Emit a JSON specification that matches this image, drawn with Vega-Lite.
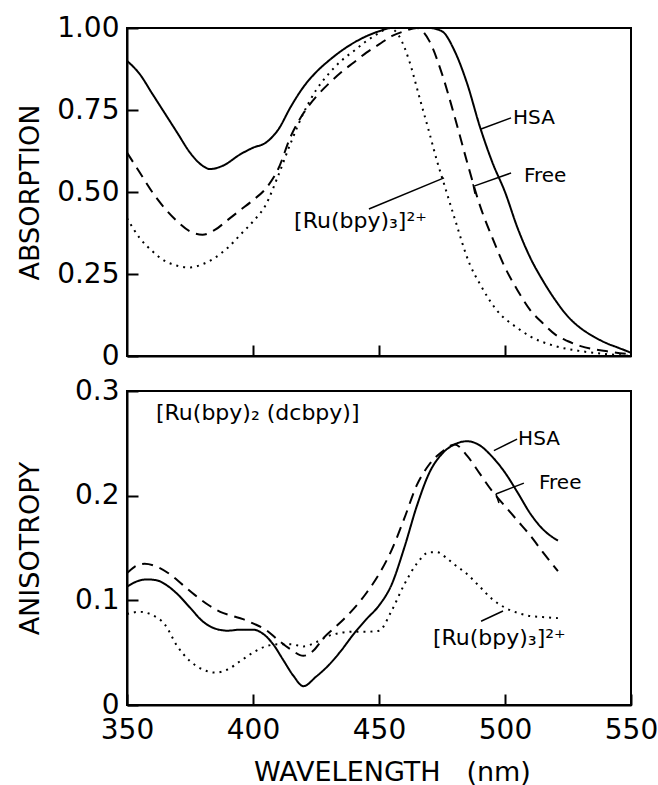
{
  "$schema": "https://vega.github.io/schema/vega-lite/v6.json",
  "padding": {"left": 15, "top": 13, "right": 5, "bottom": 5},
  "background": "white",
  "config": {
    "font": "DejaVu Sans",
    "view": {"stroke": "black", "strokeWidth": 2},
    "axis": {
      "grid": false,
      "domainColor": "black",
      "domainWidth": 2,
      "tickColor": "black",
      "tickWidth": 2,
      "tickSize": -11,
      "labelColor": "black",
      "labelFont": "DejaVu Sans",
      "labelFontSize": 28,
      "labelFontWeight": "normal",
      "titleColor": "black",
      "titleFont": "DejaVu Sans",
      "titleFontSize": 27,
      "titleFontWeight": "normal"
    }
  },
  "datasets": {
    "absorption": [
      {"wl": 350, "val": 0.90, "series": "HSA"},
      {"wl": 355, "val": 0.86, "series": "HSA"},
      {"wl": 360, "val": 0.80, "series": "HSA"},
      {"wl": 365, "val": 0.74, "series": "HSA"},
      {"wl": 370, "val": 0.68, "series": "HSA"},
      {"wl": 375, "val": 0.62, "series": "HSA"},
      {"wl": 380, "val": 0.58, "series": "HSA"},
      {"wl": 383, "val": 0.57, "series": "HSA"},
      {"wl": 388, "val": 0.58, "series": "HSA"},
      {"wl": 395, "val": 0.615, "series": "HSA"},
      {"wl": 400, "val": 0.635, "series": "HSA"},
      {"wl": 405, "val": 0.65, "series": "HSA"},
      {"wl": 410, "val": 0.69, "series": "HSA"},
      {"wl": 415, "val": 0.76, "series": "HSA"},
      {"wl": 420, "val": 0.82, "series": "HSA"},
      {"wl": 425, "val": 0.865, "series": "HSA"},
      {"wl": 430, "val": 0.90, "series": "HSA"},
      {"wl": 435, "val": 0.93, "series": "HSA"},
      {"wl": 440, "val": 0.955, "series": "HSA"},
      {"wl": 445, "val": 0.975, "series": "HSA"},
      {"wl": 450, "val": 0.99, "series": "HSA"},
      {"wl": 455, "val": 1.0, "series": "HSA"},
      {"wl": 460, "val": 1.0, "series": "HSA"},
      {"wl": 465, "val": 1.0, "series": "HSA"},
      {"wl": 470, "val": 1.0, "series": "HSA"},
      {"wl": 475, "val": 0.99, "series": "HSA"},
      {"wl": 480, "val": 0.93, "series": "HSA"},
      {"wl": 485, "val": 0.83, "series": "HSA"},
      {"wl": 490, "val": 0.70, "series": "HSA"},
      {"wl": 495, "val": 0.59, "series": "HSA"},
      {"wl": 500, "val": 0.50, "series": "HSA"},
      {"wl": 505, "val": 0.39, "series": "HSA"},
      {"wl": 510, "val": 0.30, "series": "HSA"},
      {"wl": 515, "val": 0.23, "series": "HSA"},
      {"wl": 520, "val": 0.17, "series": "HSA"},
      {"wl": 525, "val": 0.12, "series": "HSA"},
      {"wl": 530, "val": 0.085, "series": "HSA"},
      {"wl": 535, "val": 0.06, "series": "HSA"},
      {"wl": 540, "val": 0.04, "series": "HSA"},
      {"wl": 545, "val": 0.025, "series": "HSA"},
      {"wl": 550, "val": 0.01, "series": "HSA"},
      {"wl": 350, "val": 0.62, "series": "Free"},
      {"wl": 355, "val": 0.56, "series": "Free"},
      {"wl": 360, "val": 0.50, "series": "Free"},
      {"wl": 365, "val": 0.45, "series": "Free"},
      {"wl": 370, "val": 0.41, "series": "Free"},
      {"wl": 375, "val": 0.38, "series": "Free"},
      {"wl": 380, "val": 0.37, "series": "Free"},
      {"wl": 385, "val": 0.385, "series": "Free"},
      {"wl": 390, "val": 0.415, "series": "Free"},
      {"wl": 395, "val": 0.445, "series": "Free"},
      {"wl": 400, "val": 0.475, "series": "Free"},
      {"wl": 405, "val": 0.51, "series": "Free"},
      {"wl": 410, "val": 0.57, "series": "Free"},
      {"wl": 415, "val": 0.67, "series": "Free"},
      {"wl": 420, "val": 0.74, "series": "Free"},
      {"wl": 425, "val": 0.79, "series": "Free"},
      {"wl": 430, "val": 0.83, "series": "Free"},
      {"wl": 435, "val": 0.865, "series": "Free"},
      {"wl": 440, "val": 0.895, "series": "Free"},
      {"wl": 445, "val": 0.925, "series": "Free"},
      {"wl": 450, "val": 0.95, "series": "Free"},
      {"wl": 455, "val": 0.975, "series": "Free"},
      {"wl": 460, "val": 0.99, "series": "Free"},
      {"wl": 465, "val": 1.0, "series": "Free"},
      {"wl": 470, "val": 0.96, "series": "Free"},
      {"wl": 475, "val": 0.86, "series": "Free"},
      {"wl": 480, "val": 0.73, "series": "Free"},
      {"wl": 485, "val": 0.59, "series": "Free"},
      {"wl": 490, "val": 0.46, "series": "Free"},
      {"wl": 495, "val": 0.36, "series": "Free"},
      {"wl": 500, "val": 0.27, "series": "Free"},
      {"wl": 505, "val": 0.20, "series": "Free"},
      {"wl": 510, "val": 0.14, "series": "Free"},
      {"wl": 515, "val": 0.10, "series": "Free"},
      {"wl": 520, "val": 0.065, "series": "Free"},
      {"wl": 525, "val": 0.045, "series": "Free"},
      {"wl": 530, "val": 0.03, "series": "Free"},
      {"wl": 540, "val": 0.015, "series": "Free"},
      {"wl": 550, "val": 0.005, "series": "Free"},
      {"wl": 350, "val": 0.42, "series": "Ru"},
      {"wl": 355, "val": 0.36, "series": "Ru"},
      {"wl": 360, "val": 0.32, "series": "Ru"},
      {"wl": 365, "val": 0.29, "series": "Ru"},
      {"wl": 370, "val": 0.275, "series": "Ru"},
      {"wl": 375, "val": 0.27, "series": "Ru"},
      {"wl": 380, "val": 0.28, "series": "Ru"},
      {"wl": 385, "val": 0.30, "series": "Ru"},
      {"wl": 390, "val": 0.33, "series": "Ru"},
      {"wl": 395, "val": 0.37, "series": "Ru"},
      {"wl": 400, "val": 0.41, "series": "Ru"},
      {"wl": 405, "val": 0.46, "series": "Ru"},
      {"wl": 410, "val": 0.55, "series": "Ru"},
      {"wl": 415, "val": 0.65, "series": "Ru"},
      {"wl": 420, "val": 0.74, "series": "Ru"},
      {"wl": 425, "val": 0.81, "series": "Ru"},
      {"wl": 430, "val": 0.86, "series": "Ru"},
      {"wl": 435, "val": 0.90, "series": "Ru"},
      {"wl": 440, "val": 0.93, "series": "Ru"},
      {"wl": 445, "val": 0.96, "series": "Ru"},
      {"wl": 450, "val": 0.985, "series": "Ru"},
      {"wl": 454, "val": 1.0, "series": "Ru"},
      {"wl": 458, "val": 0.975, "series": "Ru"},
      {"wl": 462, "val": 0.90, "series": "Ru"},
      {"wl": 466, "val": 0.79, "series": "Ru"},
      {"wl": 470, "val": 0.68, "series": "Ru"},
      {"wl": 473, "val": 0.595, "series": "Ru"},
      {"wl": 476, "val": 0.52, "series": "Ru"},
      {"wl": 480, "val": 0.42, "series": "Ru"},
      {"wl": 486, "val": 0.28, "series": "Ru"},
      {"wl": 490, "val": 0.22, "series": "Ru"},
      {"wl": 497, "val": 0.137, "series": "Ru"},
      {"wl": 505, "val": 0.085, "series": "Ru"},
      {"wl": 510, "val": 0.06, "series": "Ru"},
      {"wl": 520, "val": 0.03, "series": "Ru"},
      {"wl": 530, "val": 0.015, "series": "Ru"},
      {"wl": 540, "val": 0.006, "series": "Ru"},
      {"wl": 550, "val": 0.0, "series": "Ru"}
    ],
    "anisotropy": [
      {"wl": 350, "val": 0.113, "series": "HSA"},
      {"wl": 355, "val": 0.119, "series": "HSA"},
      {"wl": 358, "val": 0.120, "series": "HSA"},
      {"wl": 362, "val": 0.119, "series": "HSA"},
      {"wl": 366, "val": 0.114, "series": "HSA"},
      {"wl": 370, "val": 0.106, "series": "HSA"},
      {"wl": 375, "val": 0.093, "series": "HSA"},
      {"wl": 380, "val": 0.080, "series": "HSA"},
      {"wl": 385, "val": 0.073, "series": "HSA"},
      {"wl": 390, "val": 0.071, "series": "HSA"},
      {"wl": 395, "val": 0.072, "series": "HSA"},
      {"wl": 400, "val": 0.072, "series": "HSA"},
      {"wl": 404, "val": 0.068, "series": "HSA"},
      {"wl": 408, "val": 0.058, "series": "HSA"},
      {"wl": 412, "val": 0.043, "series": "HSA"},
      {"wl": 416, "val": 0.028, "series": "HSA"},
      {"wl": 420, "val": 0.018, "series": "HSA"},
      {"wl": 425, "val": 0.027, "series": "HSA"},
      {"wl": 430, "val": 0.038, "series": "HSA"},
      {"wl": 435, "val": 0.052, "series": "HSA"},
      {"wl": 440, "val": 0.068, "series": "HSA"},
      {"wl": 445, "val": 0.082, "series": "HSA"},
      {"wl": 450, "val": 0.095, "series": "HSA"},
      {"wl": 455, "val": 0.115, "series": "HSA"},
      {"wl": 460, "val": 0.150, "series": "HSA"},
      {"wl": 465, "val": 0.190, "series": "HSA"},
      {"wl": 470, "val": 0.222, "series": "HSA"},
      {"wl": 475, "val": 0.240, "series": "HSA"},
      {"wl": 480, "val": 0.249, "series": "HSA"},
      {"wl": 485, "val": 0.252, "series": "HSA"},
      {"wl": 490, "val": 0.248, "series": "HSA"},
      {"wl": 495, "val": 0.237, "series": "HSA"},
      {"wl": 500, "val": 0.222, "series": "HSA"},
      {"wl": 505, "val": 0.203, "series": "HSA"},
      {"wl": 510, "val": 0.183, "series": "HSA"},
      {"wl": 515, "val": 0.168, "series": "HSA"},
      {"wl": 521, "val": 0.157, "series": "HSA"},
      {"wl": 350, "val": 0.126, "series": "Free"},
      {"wl": 353, "val": 0.132, "series": "Free"},
      {"wl": 357, "val": 0.135, "series": "Free"},
      {"wl": 362, "val": 0.132, "series": "Free"},
      {"wl": 367, "val": 0.125, "series": "Free"},
      {"wl": 372, "val": 0.115, "series": "Free"},
      {"wl": 377, "val": 0.105, "series": "Free"},
      {"wl": 382, "val": 0.096, "series": "Free"},
      {"wl": 387, "val": 0.089, "series": "Free"},
      {"wl": 392, "val": 0.085, "series": "Free"},
      {"wl": 396, "val": 0.082, "series": "Free"},
      {"wl": 400, "val": 0.078, "series": "Free"},
      {"wl": 405, "val": 0.072, "series": "Free"},
      {"wl": 410, "val": 0.062, "series": "Free"},
      {"wl": 415, "val": 0.053, "series": "Free"},
      {"wl": 420, "val": 0.047, "series": "Free"},
      {"wl": 424, "val": 0.052, "series": "Free"},
      {"wl": 428, "val": 0.064, "series": "Free"},
      {"wl": 432, "val": 0.073, "series": "Free"},
      {"wl": 436, "val": 0.082, "series": "Free"},
      {"wl": 440, "val": 0.092, "series": "Free"},
      {"wl": 445, "val": 0.107, "series": "Free"},
      {"wl": 450, "val": 0.125, "series": "Free"},
      {"wl": 455, "val": 0.148, "series": "Free"},
      {"wl": 460, "val": 0.178, "series": "Free"},
      {"wl": 465, "val": 0.210, "series": "Free"},
      {"wl": 470, "val": 0.230, "series": "Free"},
      {"wl": 475, "val": 0.242, "series": "Free"},
      {"wl": 480, "val": 0.249, "series": "Free"},
      {"wl": 485, "val": 0.238, "series": "Free"},
      {"wl": 490, "val": 0.221, "series": "Free"},
      {"wl": 495, "val": 0.204, "series": "Free"},
      {"wl": 500, "val": 0.190, "series": "Free"},
      {"wl": 505, "val": 0.176, "series": "Free"},
      {"wl": 510, "val": 0.162, "series": "Free"},
      {"wl": 515, "val": 0.146, "series": "Free"},
      {"wl": 521, "val": 0.128, "series": "Free"},
      {"wl": 350, "val": 0.087, "series": "Ru"},
      {"wl": 355, "val": 0.089, "series": "Ru"},
      {"wl": 360, "val": 0.086, "series": "Ru"},
      {"wl": 365, "val": 0.077, "series": "Ru"},
      {"wl": 370, "val": 0.056, "series": "Ru"},
      {"wl": 375, "val": 0.042, "series": "Ru"},
      {"wl": 380, "val": 0.034, "series": "Ru"},
      {"wl": 385, "val": 0.031, "series": "Ru"},
      {"wl": 390, "val": 0.034, "series": "Ru"},
      {"wl": 395, "val": 0.042, "series": "Ru"},
      {"wl": 400, "val": 0.050, "series": "Ru"},
      {"wl": 405, "val": 0.056, "series": "Ru"},
      {"wl": 410, "val": 0.058, "series": "Ru"},
      {"wl": 415, "val": 0.058, "series": "Ru"},
      {"wl": 420, "val": 0.056, "series": "Ru"},
      {"wl": 425, "val": 0.060, "series": "Ru"},
      {"wl": 430, "val": 0.066, "series": "Ru"},
      {"wl": 435, "val": 0.069, "series": "Ru"},
      {"wl": 440, "val": 0.070, "series": "Ru"},
      {"wl": 445, "val": 0.070, "series": "Ru"},
      {"wl": 450, "val": 0.071, "series": "Ru"},
      {"wl": 455, "val": 0.090, "series": "Ru"},
      {"wl": 460, "val": 0.115, "series": "Ru"},
      {"wl": 465, "val": 0.135, "series": "Ru"},
      {"wl": 470, "val": 0.146, "series": "Ru"},
      {"wl": 473, "val": 0.146, "series": "Ru"},
      {"wl": 477, "val": 0.140, "series": "Ru"},
      {"wl": 480, "val": 0.134, "series": "Ru"},
      {"wl": 485, "val": 0.125, "series": "Ru"},
      {"wl": 490, "val": 0.113, "series": "Ru"},
      {"wl": 495, "val": 0.101, "series": "Ru"},
      {"wl": 500, "val": 0.093, "series": "Ru"},
      {"wl": 505, "val": 0.088, "series": "Ru"},
      {"wl": 510, "val": 0.085, "series": "Ru"},
      {"wl": 515, "val": 0.084, "series": "Ru"},
      {"wl": 521, "val": 0.083, "series": "Ru"}
    ],
    "leaders": [
      {"panel": "top", "wl": 490.5, "val": 0.692, "wl2": 502.4, "val2": 0.726},
      {"panel": "top", "wl": 487.7, "val": 0.518, "wl2": 502.4, "val2": 0.558},
      {"panel": "top", "wl": 487.3, "val": 0.524, "wl2": 488.1, "val2": 0.494},
      {"panel": "top", "wl": 446.0, "val": 0.448, "wl2": 475.8, "val2": 0.543},
      {"panel": "bottom", "wl": 495.6, "val": 0.243, "wl2": 504.8, "val2": 0.254},
      {"panel": "bottom", "wl": 496.4, "val": 0.2016, "wl2": 507.5, "val2": 0.212},
      {"panel": "bottom", "wl": 496.4, "val": 0.2016, "wl2": 497.6, "val2": 0.193},
      {"panel": "bottom", "wl": 490.5, "val": 0.080, "wl2": 499.2, "val2": 0.0898}
    ],
    "labels": [
      {"panel": "top", "wl": 503.2, "val": 0.726, "text": "HSA", "size": 20},
      {"panel": "top", "wl": 507.5, "val": 0.549, "text": "Free", "size": 20},
      {"panel": "top", "wl": 416.3, "val": 0.412, "text": "[Ru(bpy)₃]²⁺", "size": 22},
      {"panel": "bottom", "wl": 361.5, "val": 0.279, "text": "[Ru(bpy)₂ (dcbpy)]", "size": 22},
      {"panel": "bottom", "wl": 505.2, "val": 0.254, "text": "HSA", "size": 20},
      {"panel": "bottom", "wl": 513.5, "val": 0.212, "text": "Free", "size": 20},
      {"panel": "bottom", "wl": 471.4, "val": 0.064, "text": "[Ru(bpy)₃]²⁺", "size": 22}
    ]
  },
  "bounds": "flush",
  "spacing": 35,
  "vconcat": [
    {
      "width": 504,
      "height": 328,
      "layer": [
        {
          "data": {"name": "absorption"},
          "mark": {"type": "line", "interpolate": "monotone", "strokeWidth": 2, "color": "black"},
          "encoding": {
            "x": {"field": "wl", "type": "quantitative", "scale": {"domain": [350, 550], "nice": false, "zero": false}, "axis": {"values": [400, 450, 500], "labels": false, "title": null}},
            "y": {"field": "val", "type": "quantitative", "scale": {"domain": [0, 1], "nice": false}, "axis": {"values": [0, 0.25, 0.5, 0.75, 1], "labelExpr": "datum.value === 0 ? '0' : format(datum.value, '.2f')", "labelPadding": 19, "title": "ABSORPTION", "titleX": -97, "titleBaseline": "middle"}},
            "strokeDash": {"field": "series", "type": "nominal", "scale": {"domain": ["HSA", "Free", "Ru"], "range": [[1, 0], [11, 7], [2, 5]]}, "legend": null}
          }
        },
        {
          "data": {"name": "leaders"},
          "transform": [{"filter": "datum.panel === 'top'"}],
          "mark": {"type": "rule", "color": "black", "strokeWidth": 1.5},
          "encoding": {
            "x": {"field": "wl", "type": "quantitative"},
            "y": {"field": "val", "type": "quantitative"},
            "x2": {"field": "wl2"},
            "y2": {"field": "val2"}
          }
        },
        {
          "data": {"name": "labels"},
          "transform": [{"filter": "datum.panel === 'top'"}],
          "mark": {"type": "text", "align": "left", "baseline": "middle", "font": "DejaVu Sans", "color": "black"},
          "encoding": {
            "x": {"field": "wl", "type": "quantitative"},
            "y": {"field": "val", "type": "quantitative"},
            "text": {"field": "text"},
            "size": {"field": "size", "type": "quantitative", "scale": null}
          }
        }
      ]
    },
    {
      "width": 504,
      "height": 314,
      "layer": [
        {
          "data": {"name": "anisotropy"},
          "mark": {"type": "line", "interpolate": "monotone", "strokeWidth": 2, "color": "black"},
          "encoding": {
            "x": {"field": "wl", "type": "quantitative", "scale": {"domain": [350, 550], "nice": false, "zero": false}, "axis": {"values": [350, 400, 450, 500, 550], "labelFlush": false, "labelPadding": 22, "title": "WAVELENGTH\u00a0\u00a0\u00a0(nm)", "titleX": 265, "titleY": 67, "titleBaseline": "middle"}},
            "y": {"field": "val", "type": "quantitative", "scale": {"domain": [0, 0.3], "nice": false}, "axis": {"values": [0, 0.1, 0.2, 0.3], "labelExpr": "datum.value === 0 ? '0' : format(datum.value, '.1f')", "labelPadding": 19, "title": "ANISOTROPY", "titleX": -97, "titleBaseline": "middle"}},
            "strokeDash": {"field": "series", "type": "nominal", "scale": {"domain": ["HSA", "Free", "Ru"], "range": [[1, 0], [11, 7], [2, 5]]}, "legend": null}
          }
        },
        {
          "data": {"name": "leaders"},
          "transform": [{"filter": "datum.panel === 'bottom'"}],
          "mark": {"type": "rule", "color": "black", "strokeWidth": 1.5},
          "encoding": {
            "x": {"field": "wl", "type": "quantitative"},
            "y": {"field": "val", "type": "quantitative"},
            "x2": {"field": "wl2"},
            "y2": {"field": "val2"}
          }
        },
        {
          "data": {"name": "labels"},
          "transform": [{"filter": "datum.panel === 'bottom'"}],
          "mark": {"type": "text", "align": "left", "baseline": "middle", "font": "DejaVu Sans", "color": "black"},
          "encoding": {
            "x": {"field": "wl", "type": "quantitative"},
            "y": {"field": "val", "type": "quantitative"},
            "text": {"field": "text"},
            "size": {"field": "size", "type": "quantitative", "scale": null}
          }
        }
      ]
    }
  ]
}
